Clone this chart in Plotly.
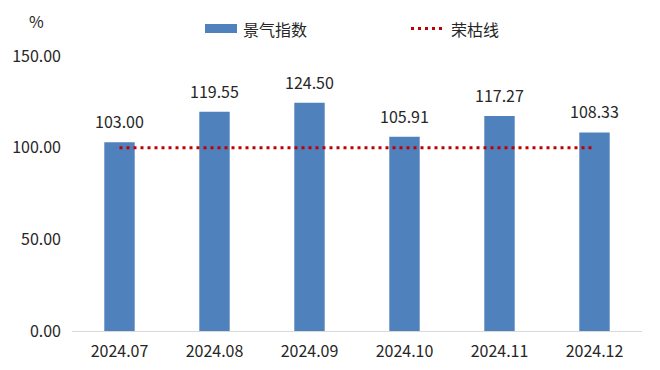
import plotly.graph_objects as go

categories = ["2024.07", "2024.08", "2024.09", "2024.10", "2024.11", "2024.12"]
index_values = [103.00, 119.55, 124.50, 105.91, 117.27, 108.33]
boom_bust = [100, 100, 100, 100, 100, 100]
y_ticks = [0, 50, 100, 150]

FONT = "Noto Sans CJK SC"
BAR_COLOR = "#4F81BD"
LINE_COLOR = "#C00000"
TEXT_COLOR = "#262626"

# page has an 8px body margin; target page coordinates are offset by it
OFF = 8
W, H = 660 - 2 * OFF, 370 - 2 * OFF
# target plot area in page pixels: x 72..642, y 56..331
L, T = 72 - OFF, 56 - OFF
R = W - (642 - OFF)
B = H - (331 - OFF)
PW, PH = W - L - R, H - T - B


def px(x):
    return (x - OFF - L) / PW


def py(y):
    return (H - B - (y - OFF)) / PH


fig = go.Figure()
fig.add_trace(go.Bar(
    x=categories, y=index_values, name="景气指数",
    marker=dict(color=BAR_COLOR, line=dict(width=0)), width=0.32,
    showlegend=False,
))
fig.add_trace(go.Scatter(
    x=categories, y=boom_bust, name="荣枯线", mode="lines",
    line=dict(color=LINE_COLOR, dash="3px,4px", width=3), showlegend=False,
))

shapes = [
    dict(type="rect", xref="paper", yref="paper",
         x0=px(205), x1=px(237), y0=py(33), y1=py(24),
         fillcolor=BAR_COLOR, line=dict(width=0)),
    dict(type="line", xref="paper", yref="paper",
         x0=px(411), x1=px(446), y0=py(28.5), y1=py(28.5),
         line=dict(color=LINE_COLOR, dash="3px,4px", width=3)),
]
annotations = [
    dict(text="景气指数", xref="paper", yref="paper", x=px(241), y=py(29),
         xanchor="left", yanchor="middle", showarrow=False,
         font=dict(size=16, family=FONT, color=TEXT_COLOR)),
    dict(text="荣枯线", xref="paper", yref="paper", x=px(449), y=py(29),
         xanchor="left", yanchor="middle", showarrow=False,
         font=dict(size=16, family=FONT, color=TEXT_COLOR)),
    dict(text="%", xref="paper", yref="paper", x=px(36), y=py(21),
         xanchor="center", yanchor="middle", showarrow=False,
         font=dict(size=16, family=FONT, color=TEXT_COLOR)),
]
# value labels above the bars, positioned through the data axes
for i, (c, v) in enumerate(zip(categories, index_values)):
    annotations.append(dict(
        text=f"{v:.2f}", x=i, y=v, xref="x", yref="y",
        xanchor="center", yanchor="bottom", yshift=7, showarrow=False,
        font=dict(size=16, family=FONT, color=TEXT_COLOR)))

fig.update_layout(
    width=W, height=H,
    margin=dict(l=L, r=R, t=T, b=B, autoexpand=False),
    paper_bgcolor="white", plot_bgcolor="white",
    font=dict(family=FONT, size=16, color=TEXT_COLOR),
    showlegend=False,
    bargap=0.68,
    shapes=shapes,
    annotations=annotations,
    xaxis=dict(type="category", showline=True, linecolor="#D9D9D9", linewidth=1, ticks="",
               ticklabelstandoff=6,
               tickfont=dict(size=16, family=FONT, color=TEXT_COLOR), showgrid=False),
    yaxis=dict(range=[0, 150], tickvals=y_ticks, ticktext=[f"{v:.2f}" for v in y_ticks],
               showgrid=False, zeroline=False, showline=False, ticks="",
               ticklabelstandoff=10,
               tickfont=dict(size=16, family=FONT, color=TEXT_COLOR)),
)

fig.write_html("out.html")
